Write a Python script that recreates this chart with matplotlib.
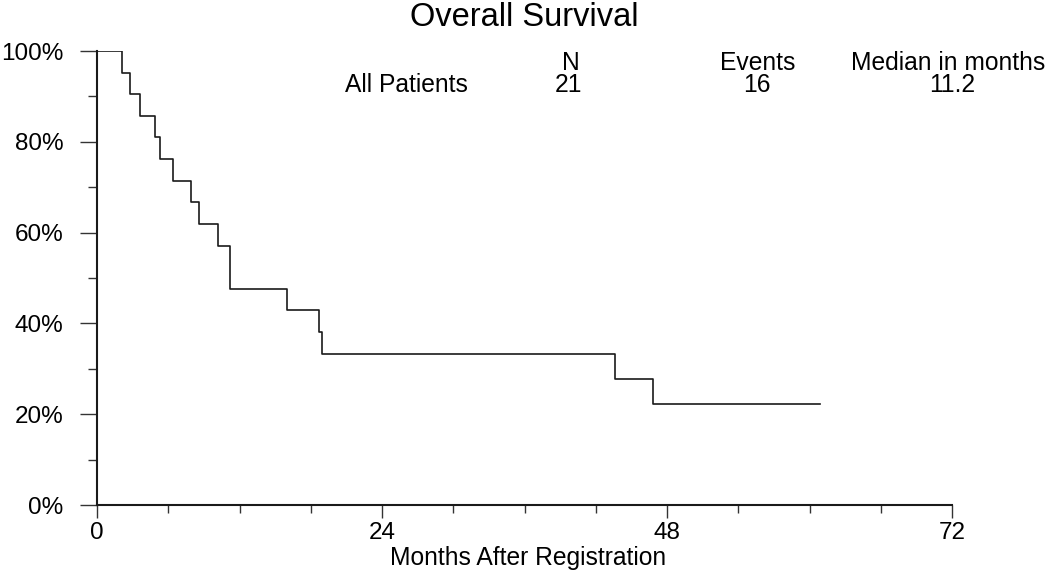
import matplotlib
matplotlib.use('Agg')
import matplotlib.pyplot as plt
import matplotlib.ticker as mticker

# Kaplan-Meier steps (months, % surviving)
months = [0, 2.1, 2.8, 3.6, 4.9, 5.3, 6.4, 7.9, 8.6, 10.2, 11.2, 11.2,
          16.0, 18.7, 18.95, 43.6, 46.8, 60.9]
survival = [100, 95.2, 90.5, 85.7, 81.0, 76.2, 71.4, 66.7, 61.9, 57.1, 52.4,
            47.6, 42.9, 38.1, 33.3, 27.8, 22.2, 22.2]

header = ['N', 'Events', 'Median in months']
group_name = 'All Patients'
group_stats = ['21', '16', '11.2']

W, H = 1050, 572
plt.rcParams['font.family'] = ['Liberation Sans', 'DejaVu Sans']

fig = plt.figure(figsize=(W / 100, H / 100), dpi=100)
ax = fig.add_axes([97 / W, 1 - 505 / H, (952 - 97) / W, (505 - 51) / H])

def px(x, y):
  return x / W, 1 - y / H

ax.step(months, survival, where='post', color='#1a1a1a', lw=1.2)

ax.set_xlim(0, 72)
ax.set_ylim(0, 100)
for s in ['top', 'right']:
  ax.spines[s].set_visible(False)
for s in ['left', 'bottom']:
  ax.spines[s].set_linewidth(1.5)
  ax.spines[s].set_color('#1a1a1a')

ax.xaxis.set_major_locator(mticker.MultipleLocator(24))
ax.xaxis.set_minor_locator(mticker.MultipleLocator(6))
ax.yaxis.set_major_locator(mticker.MultipleLocator(20))
ax.yaxis.set_minor_locator(mticker.MultipleLocator(10))
ax.yaxis.set_major_formatter(mticker.FuncFormatter(lambda v, p: '%d%%' % v))

ax.tick_params(axis='x', which='major', direction='out', length=9.4, width=1.0,
               labelsize=17.5, pad=3, color='#333333')
ax.tick_params(axis='x', which='minor', direction='out', length=5.8, width=1.0,
               color='#333333')
ax.tick_params(axis='y', which='major', direction='out', length=12.2, width=1.0,
               labelsize=17.5, pad=12, color='#333333')
ax.tick_params(axis='y', which='minor', direction='out', length=6.5, width=1.0,
               color='#333333')
for sp in ax.spines.values():
  sp.set_clip_on(False)

fig.text(*px(524, 26), 'Overall Survival', ha='center', va='baseline', fontsize=23.5)
fig.text(*px(528, 565), 'Months After Registration', ha='center', va='baseline', fontsize=17.7)

header_x = [571, 758, 948]
value_x = [569, 757, 952]
for x, h in zip(header_x, header):
  fig.text(*px(x, 70), h, ha='center', va='baseline', fontsize=17.7)
for x, v in zip(value_x, group_stats):
  fig.text(*px(x, 92), v, ha='center', va='baseline', fontsize=17.7)
fig.text(*px(468, 92), group_name, ha='right', va='baseline', fontsize=17.7)

fig.savefig('out.png', dpi=100, facecolor='white')
